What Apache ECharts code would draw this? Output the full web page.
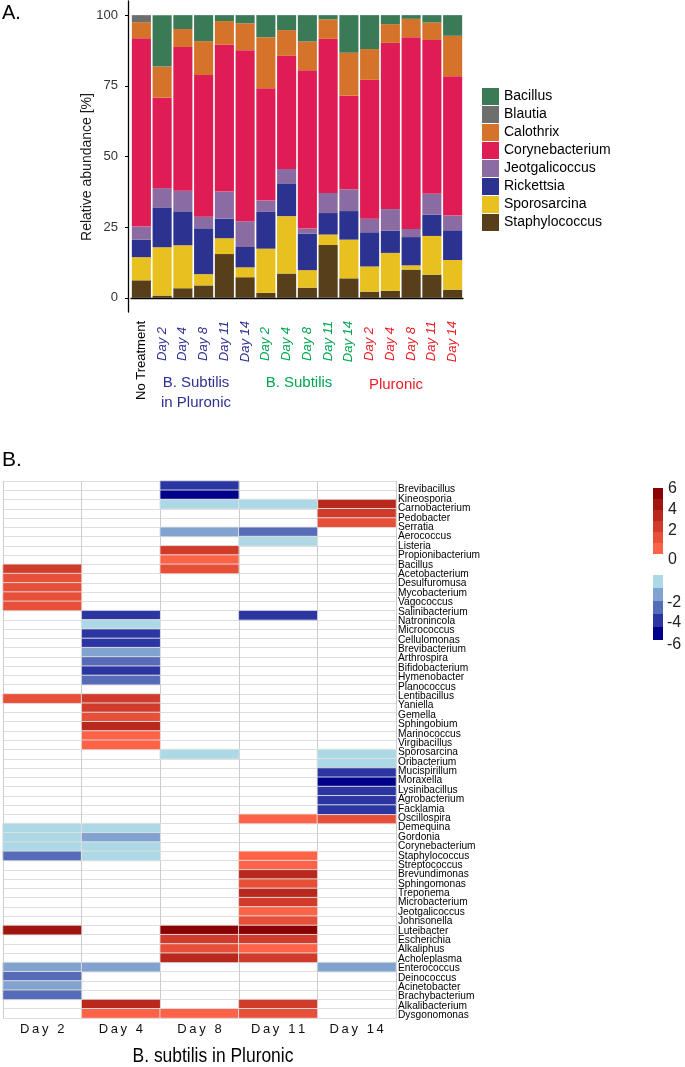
<!DOCTYPE html>
<html>
<head>
<meta charset="utf-8">
<script src="https://cdn.jsdelivr.net/npm/echarts@6/dist/echarts.min.js"></script>
<style>
html, body { margin: 0; padding: 0; background: #fff; }
#main { width: 685px; height: 1067px; }
</style>
</head>
<body>
<div id="main"></div>
<script>
// ---------- A. relative abundance (stacked bars) ----------
var sampleNames = ['No Treatment', 'Day 2', 'Day 4', 'Day 8', 'Day 11', 'Day 14',
	'Day 2', 'Day 4', 'Day 8', 'Day 11', 'Day 14',
	'Day 2', 'Day 4', 'Day 8', 'Day 11', 'Day 14'];
var sampleGroups = ['none', 'bsp', 'bsp', 'bsp', 'bsp', 'bsp',
	'bs', 'bs', 'bs', 'bs', 'bs',
	'plu', 'plu', 'plu', 'plu', 'plu'];

// bottom of the stack first
var staphylococcus = [6.2, 0.8, 3.4, 4.4, 15.5, 7.3, 1.8, 8.6, 3.6, 18.7, 6.9, 2.2, 2.5, 10.0, 8.2, 2.9];
var sporosarcina = [8.2, 17.1, 15.2, 4.0, 5.6, 3.5, 15.6, 20.3, 6.2, 3.7, 13.7, 8.9, 13.4, 1.5, 13.7, 10.5];
var rickettsia = [6.2, 14.1, 12.0, 16.2, 6.9, 7.2, 13.0, 11.6, 12.9, 7.6, 10.1, 12.1, 7.9, 10.0, 7.5, 10.5];
var jeotgalicoccus = [4.6, 6.8, 7.3, 4.1, 9.6, 9.1, 4.0, 5.1, 1.8, 7.1, 7.7, 4.8, 7.6, 2.9, 7.4, 5.2];
var corynebacterium = [66.6, 32.0, 50.8, 50.1, 52.0, 60.5, 39.7, 40.0, 56.0, 54.5, 33.1, 49.1, 58.8, 67.8, 54.4, 49.3];
var calothrix = [5.7, 11.0, 6.4, 12.0, 8.3, 9.5, 18.1, 9.1, 10.2, 6.9, 15.2, 10.9, 6.6, 6.5, 6.2, 14.3];
var blautia = [2.5, 0, 0, 0, 0, 0, 0, 0, 0, 0, 0, 0, 0, 0, 0, 0];
var bacillus = [0, 18.2, 4.9, 9.2, 2.1, 2.9, 7.8, 5.3, 9.3, 1.5, 13.3, 12.0, 3.2, 1.3, 2.6, 7.3];

var yTicks = [0, 25, 50, 75, 100];

// ---------- B. log fold change heatmap ----------
var dayCols = ['Day 2', 'Day 4', 'Day 8', 'Day 11', 'Day 14'];
var genera = ['Brevibacillus', 'Kineosporia', 'Carnobacterium', 'Pedobacter', 'Serratia', 'Aerococcus',
	'Listeria', 'Propionibacterium', 'Bacillus', 'Acetobacterium', 'Desulfuromusa', 'Mycobacterium',
	'Vagococcus', 'Salinibacterium', 'Natronincola', 'Micrococcus', 'Cellulomonas', 'Brevibacterium',
	'Arthrospira', 'Bifidobacterium', 'Hymenobacter', 'Planococcus', 'Lentibacillus', 'Yaniella',
	'Gemella', 'Sphingobium', 'Marinococcus', 'Virgibacillus', 'Sporosarcina', 'Oribacterium',
	'Mucispirillum', 'Moraxella', 'Lysinibacillus', 'Agrobacterium', 'Facklamia', 'Oscillospira',
	'Demequina', 'Gordonia', 'Corynebacterium', 'Staphylococcus', 'Streptococcus', 'Brevundimonas',
	'Sphingomonas', 'Treponema', 'Microbacterium', 'Jeotgalicoccus', 'Johnsonella', 'Luteibacter',
	'Escherichia', 'Alkaliphus', 'Acholeplasma', 'Enterococcus', 'Deinococcus', 'Acinetobacter',
	'Brachybacterium', 'Alkalibacterium', 'Dysgonomonas'];

// one value per heatmap row, top to bottom (58 rows)
var day2 = [0, 0, 0, 0, 0, 0, 0, 0, 0, 2.5,
	1.5, 1.5, 1.5, 1.5, 0, 0, 0, 0, 0, 0,
	0, 0, 0, 1.5, 0, 0, 0, 0, 0, 0,
	0, 0, 0, 0, 0, 0, 0, -0.6, -0.6, -0.6,
	-3.0, 0, 0, 0, 0, 0, 0, 0, 4.5, 0,
	0, 0, -1.8, -3.0, -1.8, -3.0, 0, 0];
var day4 = [0, 0, 0, 0, 0, 0, 0, 0, 0, 0,
	0, 0, 0, 0, -4.2, -0.6, -4.2, -4.2, -1.8, -3.0,
	-4.2, -3.0, 0, 2.5, 2.5, 1.5, 3.5, 0.5, 0.5, 0,
	0, 0, 0, 0, 0, 0, 0, -0.6, -1.8, -0.6,
	-0.6, 0, 0, 0, 0, 0, 0, 0, 0, 0,
	0, 0, -1.8, 0, 0, 0, 3.5, 0.5];
var day8 = [-4.2, -5.4, -0.6, 0, 0, -1.8, 0, 2.5, 0.5, 1.5,
	0, 0, 0, 0, 0, 0, 0, 0, 0, 0,
	0, 0, 0, 0, 0, 0, 0, 0, 0, -0.6,
	0, 0, 0, 0, 0, 0, 0, 0, 0, 0,
	0, 0, 0, 0, 0, 0, 0, 0, 5.5, 2.5,
	1.5, 3.5, 0, 0, 0, 0, 0, 0.5];
var day11 = [0, 0, -0.6, 0, 0, -3.0, -0.6, 0, 0, 0,
	0, 0, 0, 0, -4.2, 0, 0, 0, 0, 0,
	0, 0, 0, 0, 0, 0, 0, 0, 0, 0,
	0, 0, 0, 0, 0, 0, 0.5, 0, 0, 0,
	0.5, 0.5, 3.5, 1.5, 3.5, 2.5, 0.5, 1.5, 5.5, 2.5,
	0.5, 2.5, 0, 0, 0, 0, 2.5, 1.5];
var day14 = [0, 0, 3.5, 2.5, 1.5, 0, 0, 0, 0, 0,
	0, 0, 0, 0, 0, 0, 0, 0, 0, 0,
	0, 0, 0, 0, 0, 0, 0, 0, 0, -0.6,
	-0.6, -4.2, -5.4, -4.2, -4.2, -4.2, 1.5, 0, 0, 0,
	0, 0, 0, 0, 0, 0, 0, 0, 0, 0,
	0, 0, -1.8, 0, 0, 0, 0, 0];

var legendTicks = ['6', '4', '2', '0', '-2', '-4', '-6'];
</script>
<script>
(function() {
	var font = '"Liberation Sans", Arial, sans-serif';
	var narrow = '"Liberation Sans Narrow", "Liberation Sans", sans-serif';
	var colors = {
		Bacillus: '#3b7a56', Blautia: '#6e6e6e', Calothrix: '#d6732a', Corynebacterium: '#df1c54',
		Jeotgalicoccus: '#8a6ca3', Rickettsia: '#2c3290', Sporosarcina: '#e8c020', Staphylococcus: '#573f1a'
	};
	var groupStyle = {
		none: { color: '#000', fontStyle: 'normal' },
		bsp: { color: '#2e3192', fontStyle: 'italic' },
		bs: { color: '#00a651', fontStyle: 'italic' },
		plu: { color: '#ed1c24', fontStyle: 'italic' }
	};

	var stackList = [
		['Staphylococcus', staphylococcus], ['Sporosarcina', sporosarcina], ['Rickettsia', rickettsia],
		['Jeotgalicoccus', jeotgalicoccus], ['Corynebacterium', corynebacterium], ['Calothrix', calothrix],
		['Blautia', blautia], ['Bacillus', bacillus]
	];

	var xData = sampleNames.map(function(n, i) {
		var g = groupStyle[sampleGroups[i]];
		return {
			value: n,
			textStyle: { color: g.color, fontStyle: g.fontStyle, padding: n.length == 5 ? [0, 6, 0, 0] : 0 }
		};
	});

	var series = stackList.map(function(s) {
		return {
			name: s[0], type: 'bar', stack: 'ab', data: s[1],
			barCategoryGap: '8%',
			itemStyle: { color: colors[s[0]] },
			emphasis: { disabled: true }
		};
	});

	// heatmap cells
	var cols = [day2, day4, day8, day11, day14];
	var nRows = day2.length;
	var rowKeys = [];
	for (var r = 0; r < nRows; r++) rowKeys.push('row' + r);
	var upCells = [], downCells = [];
	for (var c = 0; c < cols.length; c++) {
		for (var r = 0; r < nRows; r++) {
			var v = cols[c][r];
			if (v > 0) upCells.push([c, r, v]);
			else if (v < 0) downCells.push([c, r, v]);
		}
	}
	var cellStyle = { borderColor: 'rgba(225,225,225,0.9)', borderWidth: 1 };
	series.push({
		type: 'heatmap', xAxisIndex: 1, yAxisIndex: 1, data: upCells,
		itemStyle: cellStyle, emphasis: { disabled: true }
	});
	series.push({
		type: 'heatmap', xAxisIndex: 1, yAxisIndex: 1, data: downCells,
		itemStyle: cellStyle, emphasis: { disabled: true }
	});

	var redCols = ['#ff6347', '#e84f39', '#d13b2b', '#b9281c', '#a2140e', '#8b0000'];
	var blueCols = ['#00008b', '#2b36a2', '#576cb9', '#82a2cf', '#add8e6'];
	var redPieces = redCols.map(function(col, i) {
		return { gte: i, lt: i + 1, color: col };
	});
	var bluePieces = blueCols.map(function(col, i) {
		return { gte: -6 + i * 1.2, lt: -6 + (i + 1) * 1.2, color: col };
	});

	var legendY = [489, 510, 531, 560, 603, 623, 645];
	var graphics = [
		{ type: 'text', left: 2, top: 3, style: { text: 'A.', font: '20px ' + font, fill: '#000' } },
		{ type: 'text', x: 87, y: 167, rotation: Math.PI / 2,
			style: { text: 'Relative abundance [%]', font: '14px ' + font, fill: '#1a1a1a', align: 'center', verticalAlign: 'middle' } },
		{ type: 'text', x: 196, y: 375, style: { text: 'B. Subtilis', font: '15px ' + font, fill: groupStyle.bsp.color, align: 'center', verticalAlign: 'top' } },
		{ type: 'text', x: 196, y: 395, style: { text: 'in Pluronic', font: '15px ' + font, fill: groupStyle.bsp.color, align: 'center', verticalAlign: 'top' } },
		{ type: 'text', x: 299, y: 375, style: { text: 'B. Subtilis', font: '15px ' + font, fill: groupStyle.bs.color, align: 'center', verticalAlign: 'top' } },
		{ type: 'text', x: 396, y: 377, style: { text: 'Pluronic', font: '15px ' + font, fill: groupStyle.plu.color, align: 'center', verticalAlign: 'top' } },
		{ type: 'text', x: 2, y: 450, style: { text: 'B.', font: '21px ' + narrow, fill: '#000', verticalAlign: 'top' } },
		{ type: 'text', x: 213, y: 1046, scaleX: 0.83,
			style: { text: 'B. subtilis in Pluronic', font: '21px ' + narrow, fill: '#000', align: 'center', verticalAlign: 'top' } }
	];
	legendTicks.forEach(function(t, i) {
		graphics.push({ type: 'text', x: t.charAt(0) == '-' ? 667 : 668, y: legendY[i],
			style: { text: t, font: '16px ' + font, fill: '#222', verticalAlign: 'middle' } });
	});

	var chart = echarts.init(document.getElementById('main'));
	var option = {
		animation: false,
		backgroundColor: '#fff',
		grid: [
			{ left: 131, top: 1, width: 332, height: 311 },
			{ left: 3, top: 481, width: 393, height: 537 },
			{ left: 3, top: 485, width: 393, height: 535 }
		],
		legend: {
			data: ['Bacillus', 'Blautia', 'Calothrix', 'Corynebacterium', 'Jeotgalicoccus', 'Rickettsia', 'Sporosarcina', 'Staphylococcus'],
			orient: 'vertical', left: 482, top: 88, padding: 0,
			itemWidth: 17, itemHeight: 17, itemGap: 1, icon: 'rect',
			selectedMode: false,
			textStyle: { fontFamily: font, fontSize: 14, color: '#000' }
		},
		xAxis: [
			{
				type: 'category', gridIndex: 0, data: xData,
				axisLine: { lineStyle: { color: '#000', width: 1.3 } },
				axisTick: { alignWithLabel: true, length: 3, lineStyle: { color: '#000' } },
				axisLabel: { rotate: 90, interval: 0, margin: 9, fontFamily: font, fontSize: 13 }
			},
			{
				type: 'category', gridIndex: 1, data: dayCols, position: 'bottom',
				axisLine: { show: false }, axisTick: { show: false },
				splitLine: { show: true, interval: 0, lineStyle: { color: '#cccccc', width: 1 } },
				axisLabel: {
					margin: 5, fontFamily: font, fontSize: 13, color: '#111',
					formatter: function(v) { return v.split('').join('\u2009'); }
				}
			},
			{ type: 'value', gridIndex: 2, show: false }
		],
		yAxis: [
			{
				type: 'value', gridIndex: 0, min: -5, max: 105, offset: 3,
				axisLine: { show: true, lineStyle: { color: '#000', width: 1.3 } },
				axisTick: { show: true, length: 3, customValues: yTicks, lineStyle: { color: '#000' } },
				axisLabel: { customValues: yTicks, margin: 10, fontFamily: font, fontSize: 13, color: '#333' },
				splitLine: { show: false }
			},
			{
				type: 'category', gridIndex: 1, data: rowKeys, inverse: true,
				axisLine: { show: false }, axisTick: { show: false }, axisLabel: { show: false },
				splitLine: { show: true, interval: 0, lineStyle: { color: '#dedede', width: 1 } }
			},
			{
				type: 'category', gridIndex: 2, data: genera, inverse: true, position: 'right',
				axisLine: { show: false }, axisTick: { show: false },
				axisLabel: { interval: 0, margin: 2, fontFamily: narrow, fontSize: 10.2, color: '#000' }
			}
		],
		visualMap: [
			{
				type: 'piecewise', seriesIndex: 8, dimension: 2, pieces: redPieces,
				orient: 'vertical', left: 653, top: 488, padding: 0,
				itemWidth: 10, itemHeight: 11, itemGap: 0, itemSymbol: 'rect',
				showLabel: false, selectedMode: false, hoverLink: false
			},
			{
				type: 'piecewise', seriesIndex: 9, dimension: 2, pieces: bluePieces,
				orient: 'vertical', left: 653, top: 575, padding: 0,
				itemWidth: 10, itemHeight: 13, itemGap: 0, itemSymbol: 'rect',
				showLabel: false, selectedMode: false, hoverLink: false
			}
		],
		graphic: graphics,
		series: series
	};
	chart.setOption(option);
})();
</script>
</body>
</html>
